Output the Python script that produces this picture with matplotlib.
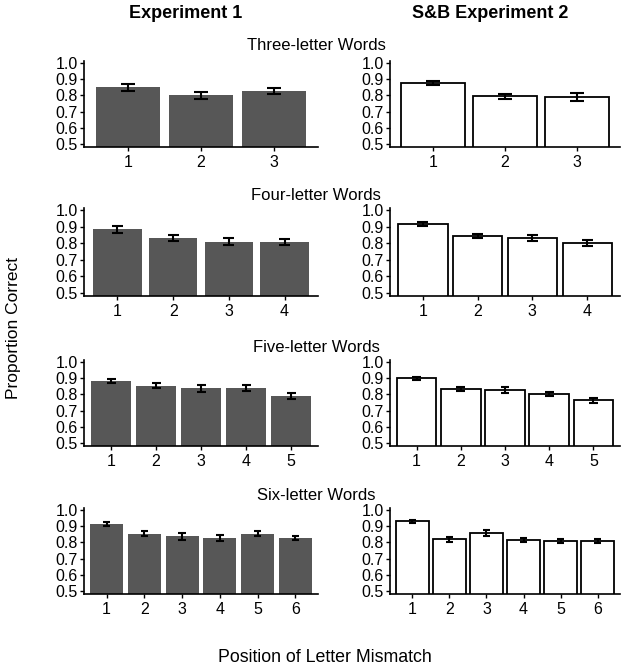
import numpy as np
import matplotlib
matplotlib.use("Agg")
import matplotlib.pyplot as plt

plt.rcParams['font.family'] = ['Liberation Sans', 'DejaVu Sans']

# Datos: media y error por posicion
titulos_fila = ["Three-letter Words", "Four-letter Words", "Five-letter Words", "Six-letter Words"]

exp1_medias = [
    [0.850, 0.800, 0.828],
    [0.885, 0.830, 0.810, 0.808],
    [0.885, 0.855, 0.838, 0.840, 0.790],
    [0.915, 0.855, 0.838, 0.828, 0.855, 0.828],
]
exp1_errores = [
    [0.020, 0.022, 0.020],
    [0.022, 0.017, 0.020, 0.020],
    [0.013, 0.018, 0.020, 0.018, 0.018],
    [0.012, 0.018, 0.022, 0.018, 0.018, 0.013],
]

sb_medias = [
    [0.875, 0.795, 0.790],
    [0.915, 0.845, 0.830, 0.800],
    [0.900, 0.835, 0.828, 0.805, 0.765],
    [0.930, 0.820, 0.858, 0.815, 0.810, 0.810],
]
sb_errores = [
    [0.013, 0.015, 0.025],
    [0.012, 0.013, 0.017, 0.017],
    [0.010, 0.013, 0.018, 0.013, 0.015],
    [0.007, 0.015, 0.017, 0.010, 0.013, 0.013],
]

fig = plt.figure(figsize=(6.28, 6.71), dpi=100)
W, H = 628, 671

# limites en pixeles (arriba, abajo) de cada fila
filas_px = [(61, 147), (208, 296), (360, 446), (508, 594)]
columnas_px = [(84, 318), (390, 620)]
separacion_titulo = [16, 13, 12, 12]


def dibujar_panel(ax, medias, errores, blanco):
    x = np.arange(1, len(medias) + 1)
    if blanco:
        ax.bar(x, medias, width=0.9, color='white', edgecolor='black', linewidth=1.3, zorder=2)
    else:
        ax.bar(x, medias, width=0.87, color='#575757', edgecolor='none', zorder=2)
    m = np.array(medias)
    e = np.array(errores)
    ax.vlines(x, m - e, m + e, color='black', linewidth=1.5, zorder=3)
    ax.hlines(m - e, x - 0.1, x + 0.1, color='black', linewidth=1.5, zorder=3)
    ax.hlines(m + e, x - 0.1, x + 0.1, color='black', linewidth=1.5, zorder=3)
    ax.set_xlim(0.4, len(medias) + 0.6)
    ax.set_ylim(0.481, 1.013)
    ax.set_xticks(x)
    ax.set_yticks([0.5, 0.6, 0.7, 0.8, 0.9, 1.0])
    ax.set_yticklabels(["0.5", "0.6", "0.7", "0.8", "0.9", "1.0"])
    for lado in ['top', 'right']:
        ax.spines[lado].set_visible(False)
    for lado in ['left', 'bottom']:
        ax.spines[lado].set_linewidth(1.2)
    ax.tick_params(axis='both', length=3, width=1, labelsize=11.5, pad=1.5, colors='black')
    ax.tick_params(axis='x', pad=3)


for i in range(4):
    arriba, abajo = filas_px[i]
    for j, (izq, der) in enumerate(columnas_px):
        ax = fig.add_axes([izq / W, 1 - abajo / H, (der - izq) / W, (abajo - arriba) / H])
        if j == 0:
            dibujar_panel(ax, exp1_medias[i], exp1_errores[i], False)
        else:
            dibujar_panel(ax, sb_medias[i], sb_errores[i], True)
    fig.text(316 / W, 1 - (arriba - separacion_titulo[i]) / H, titulos_fila[i],
             ha='center', va='center', fontsize=12)

fig.text(186 / W, 1 - 14 / H, "Experiment 1", ha='center', va='center', fontsize=13, fontweight='bold')
fig.text(490 / W, 1 - 14 / H, "S&B Experiment 2", ha='center', va='center', fontsize=13, fontweight='bold')
fig.text(14 / W, 1 - 328 / H, "Proportion Correct", ha='center', va='center', rotation=90, fontsize=12.5)
fig.text(325 / W, 1 - 658 / H, "Position of Letter Mismatch", ha='center', va='center', fontsize=12.8)

fig.savefig("out.png", dpi=100)
